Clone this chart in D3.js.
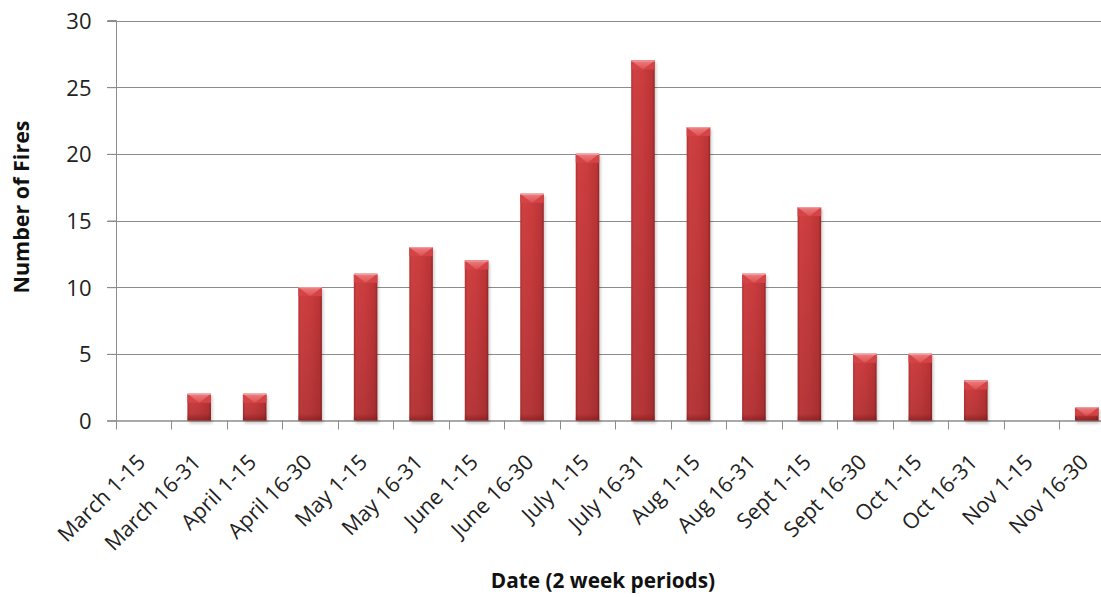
<!DOCTYPE html>
<html>
<head>
<meta charset="utf-8">
<script src="https://cdn.jsdelivr.net/npm/d3@7"></script>
<style>
  html, body { margin: 0; padding: 0; background: #fff; overflow: hidden; }
  svg { display: block; }
  svg text { font-family: "Open Sans", "DejaVu Sans", sans-serif; }
</style>
</head>
<body>
<svg id="chart" width="1101" height="597"></svg>
<script>
// Fires per two-week period
const periods = ["March 1-15", "March 16-31", "April 1-15", "April 16-30", "May 1-15", "May 16-31",
  "June 1-15", "June 16-30", "July 1-15", "July 16-31", "Aug 1-15", "Aug 16-31",
  "Sept 1-15", "Sept 16-30", "Oct 1-15", "Oct 16-31", "Nov 1-15", "Nov 16-30"];
const fires = [0, 2, 2, 10, 11, 13, 12, 17, 20, 27, 22, 11, 16, 5, 5, 3, 0, 1];
const yTicks = [0, 5, 10, 15, 20, 25, 30];

const FONT = "'Open Sans', 'DejaVu Sans', sans-serif";
const svg = d3.select("#chart");
const plotLeft = 116, plotTop = 20.5, plotBottom = 420.5;
const bandW = 55.47;
const plotRight = plotLeft + bandW * periods.length;

const x = d3.scaleBand().domain(periods).range([plotLeft, plotRight]).paddingInner(0).paddingOuter(0);
const y = d3.scaleLinear().domain([0, 30]).range([plotBottom, plotTop]);

// Gradients for the bevelled bars
const defs = svg.append("defs");
const body = defs.append("linearGradient").attr("id", "barBody").attr("x1", 0).attr("x2", 1).attr("y1", 0).attr("y2", 0);
body.append("stop").attr("offset", "0%").attr("stop-color", "#b3302f");
body.append("stop").attr("offset", "10%").attr("stop-color", "#cf4042");
body.append("stop").attr("offset", "50%").attr("stop-color", "#cb3c3e");
body.append("stop").attr("offset", "90%").attr("stop-color", "#bc3436");
body.append("stop").attr("offset", "100%").attr("stop-color", "#962426");

const shade = defs.append("linearGradient").attr("id", "barShade").attr("x1", 0).attr("x2", 0).attr("y1", 0).attr("y2", 1);
shade.append("stop").attr("offset", "0%").attr("stop-color", "#000").attr("stop-opacity", 0);
shade.append("stop").attr("offset", "100%").attr("stop-color", "#000").attr("stop-opacity", 0.12);

const chevron = defs.append("linearGradient").attr("id", "chev").attr("x1", 0).attr("x2", 0).attr("y1", 0).attr("y2", 1);
chevron.append("stop").attr("offset", "0%").attr("stop-color", "#ee7e80");
chevron.append("stop").attr("offset", "100%").attr("stop-color", "#dc5052");

const lip = defs.append("linearGradient").attr("id", "lip").attr("x1", 0).attr("x2", 0).attr("y1", 0).attr("y2", 1);
lip.append("stop").attr("offset", "0%").attr("stop-color", "#7a1618").attr("stop-opacity", 0);
lip.append("stop").attr("offset", "100%").attr("stop-color", "#7a1618").attr("stop-opacity", 0.55);

const blur = defs.append("filter").attr("id", "soft").attr("x", "-30%").attr("y", "-30%").attr("width", "160%").attr("height", "160%");
blur.append("feGaussianBlur").attr("stdDeviation", 1.8);

// Gridlines
svg.append("g").selectAll("line").data(yTicks.filter(d => d > 0)).join("line")
  .attr("x1", plotLeft - 9).attr("x2", 1101)
  .attr("y1", d => Math.round(y(d)) + 0.5).attr("y2", d => Math.round(y(d)) + 0.5)
  .attr("stroke", "#8c8c8c").attr("stroke-width", 1);

// Y axis
const yAxis = d3.axisLeft(y).tickValues(yTicks).tickSize(9).tickPadding(16);
const gy = svg.append("g").attr("transform", `translate(${plotLeft + 0.5},0)`).call(yAxis)
  .attr("font-family", FONT);
gy.select(".domain").attr("stroke", "#8c8c8c").attr("d", `M-9,${plotTop}H0V${plotBottom}`);
gy.selectAll(".tick line").attr("stroke", "#8c8c8c");
gy.selectAll(".tick text").attr("font-size", 22).attr("fill", "#222").attr("dy", "0.36em");

// X axis (ticks at band edges)
const gx = svg.append("g").attr("transform", `translate(0,${plotBottom})`);
gx.append("line").attr("x1", plotLeft - 9).attr("x2", 1101).attr("y1", 0.5).attr("y2", 0.5).attr("stroke", "#8c8c8c").attr("stroke-width", 1.5);
gx.selectAll("line.tk").data(periods).join("line").attr("class", "tk")
  .attr("x1", d => Math.round(x(d)) + 0.5).attr("x2", d => Math.round(x(d)) + 0.5)
  .attr("y1", 0).attr("y2", 9).attr("stroke", "#8c8c8c");
gx.selectAll("text.lbl").data(periods).join("text").attr("class", "lbl")
  .attr("transform", d => `translate(${x(d) + bandW / 2 + 3},${43}) rotate(-45)`)
  .attr("text-anchor", "end").attr("font-size", 21.5).attr("fill", "#222")
  .text(d => d);

// Bars
const bw = 23.5, cap = 9;
const bars = svg.append("g").selectAll("g").data(periods.map((p, i) => ({ p, v: fires[i] })).filter(d => d.v > 0)).join("g")
  .attr("transform", d => `translate(${x(d.p) + bandW / 2 - bw / 2},0)`);
// soft drop shadow under each bar
bars.append("rect").attr("x", 1.5).attr("y", d => y(d.v) + 2).attr("width", bw).attr("height", d => plotBottom - y(d.v) + 1)
  .attr("fill", "#000").attr("opacity", 0.2).attr("filter", "url(#soft)");
bars.append("rect").attr("x", 0).attr("y", d => y(d.v)).attr("width", bw).attr("height", d => plotBottom - y(d.v))
  .attr("fill", "url(#barBody)");
bars.append("rect").attr("x", 0).attr("y", d => y(d.v)).attr("width", bw).attr("height", d => plotBottom - y(d.v))
  .attr("fill", "url(#barShade)");
// top bevel band with a light chevron
bars.append("rect").attr("x", 0).attr("y", d => y(d.v)).attr("width", bw).attr("height", cap)
  .attr("fill", "#d44446");
bars.append("path")
  .attr("d", d => `M0,${y(d.v)}H${bw}L${bw / 2},${y(d.v) + cap}Z`)
  .attr("fill", "url(#chev)");
bars.append("line").attr("x1", 0).attr("x2", bw).attr("y1", d => y(d.v) + 0.5).attr("y2", d => y(d.v) + 0.5)
  .attr("stroke", "#f2a4a5").attr("stroke-width", 1);
// darker bottom lip
bars.append("rect").attr("x", 0).attr("y", plotBottom - 7).attr("width", bw).attr("height", 7)
  .attr("fill", "url(#lip)");

// Axis titles
svg.append("text").attr("x", 603).attr("y", 588).attr("text-anchor", "middle")
  .attr("font-size", 20.8).attr("font-weight", "bold").attr("fill", "#111")
  .text("Date (2 week periods)");
svg.append("text").attr("transform", "translate(29,207) rotate(-90)").attr("text-anchor", "middle")
  .attr("font-size", 21.5).attr("font-weight", "bold").attr("fill", "#111")
  .text("Number of Fires");
</script>
</body>
</html>
